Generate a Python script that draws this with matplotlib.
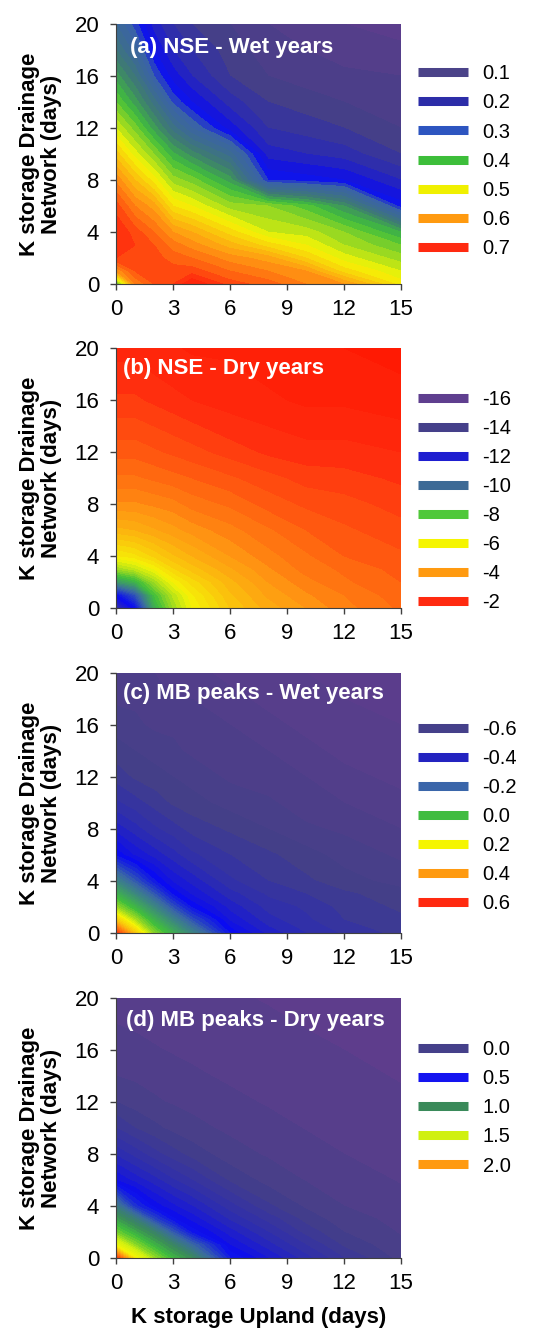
import numpy as np
import matplotlib
matplotlib.use('Agg')
import matplotlib.pyplot as plt
from matplotlib.colors import LinearSegmentedColormap, Normalize
from matplotlib.lines import Line2D

plt.rcParams['font.family'] = ['Liberation Sans', 'DejaVu Sans']

# ejes de la malla (dias)
k_upland = [0, 1, 2, 3, 4, 6, 8, 10, 12, 15]
k_drainage = [0, 1, 2, 3, 4, 6, 8, 10, 12, 14, 16, 18, 20]

# cada lista: perfil a lo largo de k_drainage para un valor de k_upland
nse_wet_cols = [
    [0.40, 0.60, 0.68, 0.70, 0.70, 0.67, 0.615, 0.55, 0.48, 0.42, 0.37, 0.32, 0.28],
    [0.62, 0.66, 0.68, 0.68, 0.67, 0.62, 0.56, 0.49, 0.43, 0.37, 0.32, 0.27, 0.23],
    [0.66, 0.67, 0.67, 0.66, 0.64, 0.59, 0.51, 0.44, 0.37, 0.31, 0.24, 0.20, 0.17],
    [0.68, 0.67, 0.65, 0.63, 0.60, 0.52, 0.45, 0.385, 0.31, 0.235, 0.19, 0.16, 0.14],
    [0.72, 0.67, 0.64, 0.61, 0.58, 0.50, 0.43, 0.35, 0.26, 0.20, 0.16, 0.14, 0.12],
    [0.67, 0.64, 0.61, 0.57, 0.53, 0.45, 0.37, 0.29, 0.19, 0.15, 0.12, 0.11, 0.10],
    [0.65, 0.62, 0.59, 0.53, 0.48, 0.44, 0.22, 0.17, 0.14, 0.12, 0.10, 0.09, 0.08],
    [0.62, 0.60, 0.54, 0.50, 0.47, 0.41, 0.21, 0.16, 0.13, 0.11, 0.09, 0.08, 0.07],
    [0.60, 0.53, 0.49, 0.46, 0.44, 0.36, 0.20, 0.15, 0.12, 0.10, 0.085, 0.07, 0.06],
    [0.51, 0.48, 0.45, 0.42, 0.38, 0.21, 0.16, 0.12, 0.10, 0.09, 0.08, 0.065, 0.05],
]

nse_dry_cols = [
    [-13.5, -12.0, -9.0, -7.0, -5.8, -4.6, -3.8, -3.3, -2.9, -2.6, -2.3, -2.1, -1.9],
    [-12.0, -10.5, -8.3, -6.6, -5.6, -4.5, -3.8, -3.3, -2.9, -2.6, -2.3, -2.1, -1.9],
    [-8.5, -8.0, -7.0, -6.0, -5.2, -4.3, -3.7, -3.2, -2.8, -2.5, -2.2, -2.0, -1.8],
    [-7.0, -6.7, -6.0, -5.3, -4.8, -4.1, -3.6, -3.1, -2.7, -2.4, -2.1, -1.9, -1.8],
    [-6.0, -5.8, -5.4, -4.9, -4.5, -3.9, -3.4, -3.0, -2.6, -2.3, -2.0, -1.9, -1.7],
    [-5.0, -4.8, -4.6, -4.3, -4.0, -3.6, -3.2, -2.8, -2.4, -2.1, -1.9, -1.8, -1.7],
    [-4.4, -4.2, -4.0, -3.8, -3.6, -3.3, -2.9, -2.6, -2.2, -2.0, -1.8, -1.7, -1.6],
    [-4.0, -3.8, -3.6, -3.4, -3.3, -3.0, -2.7, -2.4, -2.1, -1.9, -1.7, -1.6, -1.5],
    [-3.6, -3.5, -3.3, -3.2, -3.0, -2.8, -2.6, -2.35, -2.1, -1.9, -1.7, -1.6, -1.5],
    [-3.2, -3.1, -3.0, -2.9, -2.8, -2.6, -2.4, -2.2, -2.0, -1.8, -1.6, -1.5, -1.4],
]

# cada lista: perfil a lo largo de k_upland para un valor de k_drainage
mb_wet_rows = [
    [0.60, 0.30, 0.08, -0.05, -0.17, -0.39, -0.47, -0.51, -0.54, -0.57],
    [0.30, 0.12, -0.04, -0.17, -0.29, -0.44, -0.50, -0.53, -0.56, -0.58],
    [0.10, -0.03, -0.16, -0.29, -0.39, -0.47, -0.52, -0.54, -0.57, -0.59],
    [-0.04, -0.16, -0.28, -0.39, -0.44, -0.50, -0.54, -0.56, -0.58, -0.60],
    [-0.17, -0.28, -0.38, -0.44, -0.47, -0.53, -0.56, -0.58, -0.60, -0.62],
    [-0.39, -0.44, -0.47, -0.50, -0.53, -0.56, -0.58, -0.60, -0.62, -0.64],
    [-0.47, -0.50, -0.53, -0.55, -0.57, -0.59, -0.61, -0.63, -0.64, -0.66],
    [-0.53, -0.55, -0.57, -0.59, -0.60, -0.62, -0.63, -0.65, -0.66, -0.68],
    [-0.57, -0.59, -0.60, -0.61, -0.62, -0.64, -0.65, -0.66, -0.68, -0.69],
    [-0.60, -0.61, -0.62, -0.63, -0.64, -0.65, -0.66, -0.68, -0.69, -0.70],
    [-0.62, -0.63, -0.64, -0.64, -0.65, -0.66, -0.68, -0.69, -0.70, -0.71],
    [-0.64, -0.64, -0.65, -0.66, -0.66, -0.68, -0.69, -0.70, -0.71, -0.72],
    [-0.65, -0.66, -0.66, -0.67, -0.68, -0.69, -0.70, -0.71, -0.72, -0.73],
]

mb_dry_rows = [
    [2.30, 1.72, 1.38, 1.16, 1.00, 0.50, 0.35, 0.22, 0.10, -0.02],
    [1.65, 1.36, 1.15, 0.97, 0.76, 0.40, 0.27, 0.15, 0.04, -0.04],
    [1.30, 1.12, 0.95, 0.70, 0.48, 0.32, 0.20, 0.08, 0.00, -0.055],
    [1.08, 0.90, 0.64, 0.46, 0.38, 0.24, 0.13, 0.03, -0.03, -0.065],
    [0.86, 0.57, 0.43, 0.36, 0.30, 0.17, 0.06, -0.01, -0.05, -0.078],
    [0.40, 0.33, 0.27, 0.205, 0.15, 0.04, -0.02, -0.053, -0.07, -0.105],
    [0.24, 0.18, 0.12, 0.07, 0.03, -0.03, -0.056, -0.075, -0.10, -0.123],
    [0.10, 0.05, 0.014, -0.015, -0.036, -0.06, -0.079, -0.103, -0.12, -0.133],
    [0.00, -0.025, -0.043, -0.055, -0.063, -0.085, -0.106, -0.122, -0.13, -0.143],
    [-0.05, -0.058, -0.067, -0.078, -0.09, -0.11, -0.123, -0.132, -0.14, -0.153],
    [-0.07, -0.083, -0.095, -0.105, -0.113, -0.125, -0.133, -0.142, -0.15, -0.161],
    [-0.10, -0.108, -0.117, -0.123, -0.127, -0.135, -0.143, -0.152, -0.16, -0.167],
    [-0.12, -0.124, -0.128, -0.133, -0.137, -0.145, -0.153, -0.161, -0.165, -0.175],
]

titulos = ['(a) NSE - Wet years', '(b) NSE - Dry years',
           '(c) MB peaks - Wet years', '(d) MB peaks - Dry years']

# leyendas (texto y color de cada entrada)
ley_a = ['0.1', '0.2', '0.3', '0.4', '0.5', '0.6', '0.7']
col_a = ['#4B4389', '#2C2DA8', '#2D55C0', '#3DBE3A', '#F0F000', '#FF9A10', '#FF2A10']
ley_b = ['-16', '-14', '-12', '-10', '-8', '-6', '-4', '-2']
col_b = ['#5F3F8F', '#45408A', '#1E1ED0', '#3D6A96', '#50C83A', '#F5F500', '#FF9A10', '#FF2A10']
ley_c = ['-0.6', '-0.4', '-0.2', '0.0', '0.2', '0.4', '0.6']
col_c = ['#45408A', '#2323C0', '#3A66AA', '#40BC40', '#F5F500', '#FF9A10', '#FF2A10']
ley_d = ['0.0', '0.5', '1.0', '1.5', '2.0']
col_d = ['#45408A', '#1414F0', '#3A8A5A', '#D0F010', '#FF9A10']

# paleta de relleno: (valor, color)
purpura, pizarra, azul_osc, azul = '#5E3D8C', '#443F88', '#2A2AB4', '#0A0AF2'
acero, verde, amarillo, naranja, rojo = '#3A68A4', '#40BE3C', '#F5F505', '#FF9A12', '#FF2A0E'

paleta_a = [(0.04, purpura), (0.11, pizarra), (0.16, azul_osc), (0.205, azul), (0.245, '#3A62A8'),
            (0.30, '#3C6E8C'), (0.34, '#3E7C70'), (0.40, verde), (0.50, amarillo), (0.60, naranja),
            (0.70, rojo), (0.76, '#FF1A00')]
paleta_b = [(-16, purpura), (-14, pizarra), (-12, azul), (-10, acero), (-8, verde),
            (-6, amarillo), (-4, naranja), (-2, rojo), (-1.2, '#FF1500')]
paleta_c = [(-0.74, purpura), (-0.60, pizarra), (-0.50, azul_osc), (-0.40, azul), (-0.25, acero),
            (0.0, verde), (0.2, amarillo), (0.4, naranja), (0.62, rojo)]
paleta_d = [(-0.18, purpura), (0.0, pizarra), (0.25, azul_osc), (0.45, azul), (0.75, acero),
            (1.0, '#3A8A5A'), (1.2, verde), (1.5, '#D0F010'), (1.7, amarillo), (2.0, naranja), (2.35, rojo)]


def mapa(paleta):
    v0, v1 = paleta[0][0], paleta[-1][0]
    pos = [(v - v0) / (v1 - v0) for v, _ in paleta]
    cmap = LinearSegmentedColormap.from_list('p', list(zip(pos, [c for _, c in paleta])))
    return cmap, Normalize(v0, v1)


paneles = [
    (np.array(nse_wet_cols).T, paleta_a, np.arange(0.0, 0.78, 0.02), ley_a, col_a, 0.845, 0.049, 0.91),
    (np.array(nse_dry_cols).T, paleta_b, np.arange(-16, -1.0, 0.25), ley_b, col_b, 0.840, 0.026, 0.923),
    (np.array(mb_wet_rows), paleta_c, np.arange(-0.76, 0.66, 0.025), ley_c, col_c, 0.820, 0.025, 0.923),
    (np.array(mb_dry_rows), paleta_d, np.arange(-0.2, 2.45, 0.05), ley_d, col_d, 0.838, 0.035, 0.915),
]

fig = plt.figure(figsize=(5.44, 13.31), dpi=100)
bottoms = [0.7866, 0.5432, 0.2990, 0.0548]

for i, (z, paleta, niveles, etiquetas, colores, ly, tx, ty) in enumerate(paneles):
    ax = fig.add_axes([0.2132, bottoms[i], 0.524, 0.1953])
    cmap, norm = mapa(paleta)
    ax.contourf(k_upland, k_drainage, z, levels=niveles, cmap=cmap, norm=norm, extend='both')
    ax.set_xlim(0, 15)
    ax.set_ylim(0, 20)
    ax.set_xticks([0, 3, 6, 9, 12, 15])
    ax.set_yticks([0, 4, 8, 12, 16, 20])
    ax.tick_params(direction='out', length=4, width=1, color='#404040', labelsize=16)
    ax.tick_params(axis='x', pad=7)
    ax.tick_params(axis='y', pad=8)
    for s in ['top', 'right']:
        ax.spines[s].set_visible(False)
    for s in ['left', 'bottom']:
        ax.spines[s].set_color('#404040')

    ax.text(tx, ty, titulos[i], transform=ax.transAxes, color='white', fontweight='bold',
            fontsize=16, ha='left', va='center')

    ax.set_ylabel('K storage Drainage\nNetwork (days)', fontsize=16, fontweight='bold',
                  linespacing=1.1, va='center')
    ax.yaxis.set_label_coords(-0.265, 0.5)

    handles = [Line2D([], [], color=c, lw=6.5, solid_capstyle='butt') for c in colores]
    ax.legend(handles, etiquetas, loc='upper left', bbox_to_anchor=(1.06, ly), frameon=False,
              fontsize=14.5, handlelength=2.5, handletextpad=0.7, labelspacing=0.5,
              borderpad=0, borderaxespad=0)

    if i == 3:
        ax.set_xlabel('K storage Upland (days)', fontsize=16, fontweight='bold', va='center')
        ax.xaxis.set_label_coords(0.5, -0.23)

fig.savefig('out.png', dpi=100)
plt.close(fig)
